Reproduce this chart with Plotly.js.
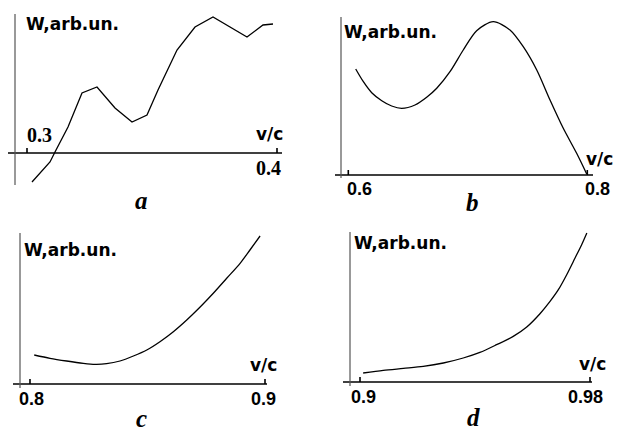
<!DOCTYPE html>
<html><head><meta charset="utf-8">
<script src="https://cdn.plot.ly/plotly-3.0.1.min.js"></script>
<style>html,body{margin:0;padding:0;background:#fff}</style>
</head><body><div id="chart" style="width:621px;height:436px"></div>
<script>
// ---- data (v/c, W in arbitrary units) ----
const aV = [0.302, 0.3092, 0.3112, 0.3164, 0.322, 0.328, 0.3352, 0.342, 0.348, 0.3524, 0.36, 0.3672, 0.3744, 0.3812, 0.388, 0.3944, 0.3984];
const aW = [-2.9, -0.9, 0.1, 2.6, 6.0, 6.6, 4.5, 3.1, 3.8, 6.3, 10.3, 12.6, 13.6, 12.6, 11.6, 12.8, 12.9];
const bV = [0.6062, 0.6126, 0.6196, 0.628, 0.6363, 0.6447, 0.6558, 0.6656, 0.674, 0.6851, 0.6962, 0.7074, 0.7213, 0.7353, 0.7464, 0.7577, 0.7688, 0.7799, 0.7911, 0.7995];
const bW = [10.6, 9.33, 8.23, 7.43, 6.9, 6.67, 7.0, 7.77, 8.67, 10.33, 12.5, 14.43, 15.33, 14.5, 12.83, 10.5, 7.5, 4.67, 2.17, 0.1];
const cV = [0.8018, 0.8085, 0.8156, 0.8227, 0.8277, 0.8326, 0.8383, 0.844, 0.8497, 0.8553, 0.861, 0.8667, 0.8723, 0.878, 0.8837, 0.8894, 0.8936, 0.8979];
const cW = [2.9, 2.57, 2.3, 2.07, 1.97, 2.03, 2.3, 2.8, 3.4, 4.23, 5.23, 6.4, 7.67, 9.07, 10.57, 12.07, 13.4, 14.8];
const dV = [0.9011, 0.9081, 0.9151, 0.922, 0.929, 0.9359, 0.9417, 0.9475, 0.9533, 0.958, 0.9626, 0.9661, 0.969, 0.9719, 0.9748, 0.9771, 0.9789];
const dW = [0.9, 1.16, 1.36, 1.56, 1.9, 2.4, 2.96, 3.73, 4.56, 5.5, 6.83, 8.06, 9.23, 10.73, 12.4, 13.73, 14.9];

const aTicks = [0.3, 0.4], aTickText = ['0.3', '0.4'];
const bTicks = [0.6, 0.8], bTickText = ['0.6', '0.8'];
const cTicks = [0.8, 0.9], cTickText = ['0.8', '0.9'];
const dTicks = [0.9, 0.98], dTickText = ['0.9', '0.98'];
const panelLetters = ['a', 'b', 'c', 'd'];
const yLabel = 'W,arb.un.';
const xLabel = 'v/c';

// ---- geometry ----
const W = 621, H = 436;
const fx = p => p / W, fy = p => 1 - p / H;
const panels = [
  {v: aV, w: aW, t: aTicks, tt: aTickText, shape: 'linear',
   xd: [8, 282], yd: [14, 185], xr: [0.2924, 0.402], yr: [-3.2, 13.9], vx: 15,
   tickFont: {family: 'Liberation Serif', size: 20, weight: 700},
   tickShift: [[12, 18], [-9, -14.5]],
   yl: [72, 24.5], xl: [269, 133.5], letter: [141, 200]},
  {v: bV, w: bW, t: bTicks, tt: bTickText, shape: 'spline',
   xd: [335, 593], yd: [17, 178], xr: [0.58887, 0.80477], yr: [-0.3, 15.8], vx: 341,
   tickFont: {family: 'Liberation Sans', size: 18, weight: 700},
   tickShift: [[11.7, -13.5], [9.7, -14]],
   yl: [390, 32], xl: [599.5, 159], letter: [472, 203]},
  {v: cV, w: cW, t: cTicks, tt: cTickText, shape: 'spline',
   xd: [13, 267], yd: [233, 388], xr: [0.79277, 0.90085], yr: [-0.4, 15.1], vx: 20,
   tickFont: {family: 'Liberation Sans', size: 18, weight: 700},
   tickShift: [[2, -14.5], [-2, -14.5]],
   yl: [70.5, 250], xl: [263, 365], letter: [141, 418]},
  {v: dV, w: dW, t: dTicks, tt: dTickText, shape: 'spline',
   xd: [343, 592], yd: [232, 386], xr: [0.894087, 0.980696], yr: [-0.4, 15.0], vx: 350,
   tickFont: {family: 'Liberation Sans', size: 18, weight: 700},
   tickShift: [[3, -15], [-5, -15]],
   yl: [400, 242.5], xl: [592, 364], letter: [474, 417]}
];

const traces = [], shapes = [], annotations = [];
const layout = {
  width: W, height: H, margin: {l: 0, r: 0, t: 0, b: 0},
  paper_bgcolor: '#fff', plot_bgcolor: 'rgba(0,0,0,0)', showlegend: false
};

panels.forEach((p, i) => {
  const n = i === 0 ? '' : String(i + 1);
  const xa = 'x' + n, ya = 'y' + n;
  layout['xaxis' + n] = {domain: [fx(p.xd[0]), fx(p.xd[1])], range: p.xr, visible: false, anchor: ya, fixedrange: true};
  layout['yaxis' + n] = {domain: [fy(p.yd[1]), fy(p.yd[0])], range: p.yr, visible: false, anchor: xa, fixedrange: true};
  traces.push({x: p.v, y: p.w, xaxis: xa, yaxis: ya, type: 'scatter', mode: 'lines',
    line: {color: '#000', width: 1.3, shape: p.shape, smoothing: 0.8}, hoverinfo: 'skip'});
  // horizontal axis at W = 0
  shapes.push({type: 'line', xref: xa + ' domain', x0: 0, x1: 1, yref: ya, y0: 0, y1: 0,
    line: {color: '#000', width: 1.6}});
  // vertical axis
  shapes.push({type: 'line', xref: 'paper', x0: fx(p.vx), x1: fx(p.vx), yref: ya + ' domain', y0: 0, y1: 1,
    line: {color: '#555', width: 1.2}});
  p.t.forEach((tv, k) => {
    shapes.push({type: 'line', xref: xa, x0: tv, x1: tv, yref: ya, ysizemode: 'pixel', yanchor: 0, y0: 0, y1: 5,
      line: {color: '#000', width: 1.6}});
    annotations.push({xref: xa, yref: ya, x: tv, y: 0, xshift: p.tickShift[k][0], yshift: p.tickShift[k][1],
      text: p.tt[k], showarrow: false, xanchor: 'center', yanchor: 'middle',
      font: Object.assign({color: '#000'}, p.tickFont)});
  });
  annotations.push({xref: 'paper', yref: 'paper', x: fx(p.yl[0]), y: fy(p.yl[1]), text: yLabel, showarrow: false,
    xanchor: 'center', yanchor: 'middle', font: {family: 'DejaVu Sans', size: 17, weight: 700, color: '#000'}});
  annotations.push({xref: 'paper', yref: 'paper', x: fx(p.xl[0]), y: fy(p.xl[1]), text: xLabel, showarrow: false,
    xanchor: 'center', yanchor: 'middle', font: {family: 'DejaVu Sans', size: 17, weight: 700, color: '#000'}});
  annotations.push({xref: 'paper', yref: 'paper', x: fx(p.letter[0]), y: fy(p.letter[1]), text: panelLetters[i], showarrow: false,
    xanchor: 'center', yanchor: 'middle', font: {family: 'Liberation Serif', size: 25, weight: 700, style: 'italic', color: '#000'}});
});
layout.shapes = shapes;
layout.annotations = annotations;
Plotly.newPlot('chart', traces, layout, {staticPlot: true, displayModeBar: false});
</script>
</body></html>
